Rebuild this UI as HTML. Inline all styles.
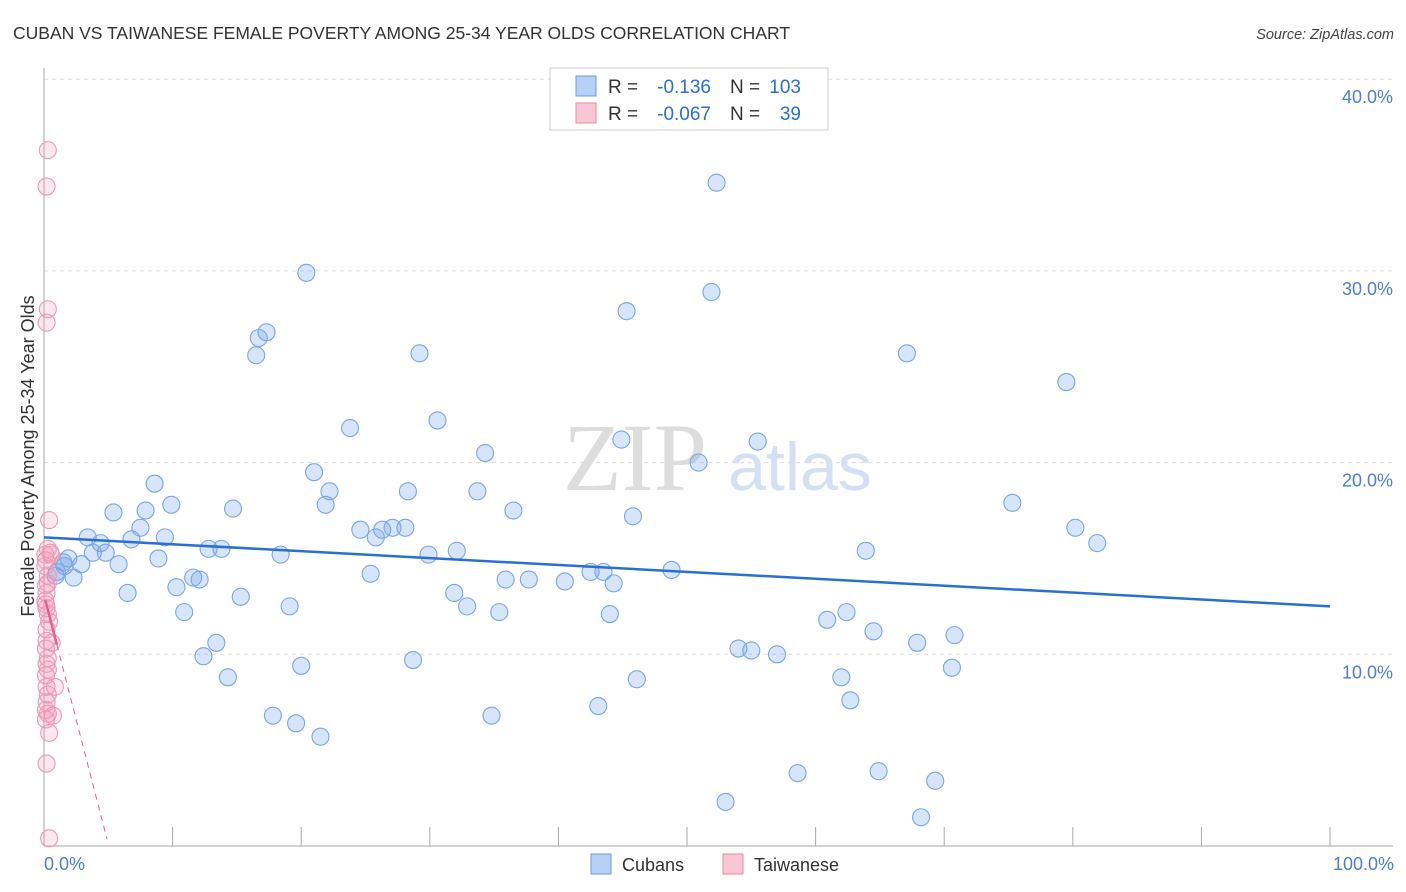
<!DOCTYPE html>
<html><head><meta charset="utf-8"><style>
body{margin:0;background:#fff;font-family:"Liberation Sans",sans-serif;}
svg{display:block}
</style></head><body>
<svg id="chart" width="1406" height="892" xmlns="http://www.w3.org/2000/svg" font-family="Liberation Sans, sans-serif">
<text x="13" y="39" font-size="17.5" fill="#333">CUBAN VS TAIWANESE FEMALE POVERTY AMONG 25-34 YEAR OLDS CORRELATION CHART</text>
<text x="1394" y="39" font-size="14.5" fill="#444" text-anchor="end" font-style="italic">Source: ZipAtlas.com</text>
<g>
<text x="635" y="490" font-size="96" fill="#ddd" text-anchor="middle" font-family="Liberation Serif, serif">ZIP</text>
<text x="800" y="490" font-size="68" fill="#d5e0f4" text-anchor="middle">atlas</text>
</g>
<g id="grid"></g><g id="axes"></g><g id="marks"></g>
<text transform="translate(34,456) rotate(-90)" font-size="18" fill="#333" text-anchor="middle">Female Poverty Among 25-34 Year Olds</text>
<text x="44" y="870" font-size="18" fill="#4a7fd4">0.0%</text>
<text x="1394" y="870" font-size="18" fill="#4a7fd4" text-anchor="end">100.0%</text>
<g>
<rect x="550" y="68" width="278" height="62" fill="#fff" stroke="#ccc"/>
<rect x="576" y="76" width="20" height="20" fill="#b7d0f5" stroke="#6a9be0"/>
<rect x="576" y="103" width="20" height="20" fill="#f9c6d5" stroke="#e88aa8"/>
<text x="608" y="93" font-size="19" fill="#333">R =</text>
<text x="711" y="93" font-size="19" fill="#2a6fd6" text-anchor="end">-0.136</text>
<text x="730" y="93" font-size="19" fill="#333">N =</text>
<text x="801" y="93" font-size="19" fill="#2a6fd6" text-anchor="end">103</text>
<text x="608" y="120" font-size="19" fill="#333">R =</text>
<text x="711" y="120" font-size="19" fill="#2a6fd6" text-anchor="end">-0.067</text>
<text x="730" y="120" font-size="19" fill="#333">N =</text>
<text x="801" y="120" font-size="19" fill="#2a6fd6" text-anchor="end">39</text>
</g>
<g>
<rect x="591" y="854" width="20" height="20" fill="#b7d0f5" stroke="#6a9be0"/>
<text x="622" y="871" font-size="18" fill="#333">Cubans</text>
<rect x="723" y="854" width="20" height="20" fill="#f9c6d5" stroke="#e88aa8"/>
<text x="754" y="871" font-size="18" fill="#333">Taiwanese</text>
</g>
</svg>
<script>
const yTicks=[10,20,30,40];
const yTickLabels=["10.0%","20.0%","30.0%","40.0%"];
const xTicks=[0,10,20,30,40,50,60,70,80,90,100];
const cubanX=[52.3,20.4,51.9,45.3,17.3,16.7,16.5,29.2,67.1,79.5,30.6,23.8,44.9,55.5,34.3,50.9,21.0,8.6,28.3,33.7,22.2,9.9,21.9,75.3,14.7,5.4,7.9,36.5,45.8,7.5,24.6,26.3,27.1,28.1,25.8,80.2,3.4,4.4,6.8,9.4,81.9,12.8,13.8,32.1,29.9,63.9,3.8,4.8,18.4,8.9,5.8,2.9,1.9,1.5,1.0,0.9,2.3,1.6,42.5,43.5,48.8,25.4,11.6,12.1,35.9,37.7,40.5,44.3,10.3,6.5,15.3,31.9,19.1,32.9,35.4,44.0,10.9,62.4,60.9,64.5,70.8,13.4,67.9,54.0,55.0,57.0,12.4,20.0,28.7,70.6,14.3,46.1,62.0,62.7,43.1,17.8,19.6,34.8,21.5,58.6,64.9,69.3,53.0,68.2];
const cubanY=[34.6,29.9,28.9,27.9,26.8,26.5,25.6,25.7,25.7,24.2,22.2,21.8,21.2,21.1,20.5,20.0,19.5,18.9,18.5,18.5,18.5,17.8,17.8,17.9,17.6,17.4,17.5,17.5,17.2,16.6,16.5,16.5,16.6,16.6,16.1,16.6,16.1,15.8,16.0,16.1,15.8,15.5,15.5,15.4,15.2,15.4,15.3,15.3,15.2,15.0,14.7,14.7,15.0,14.8,14.3,14.1,14.0,14.6,14.3,14.3,14.4,14.2,14.0,13.9,13.9,13.9,13.8,13.7,13.5,13.2,13.0,13.2,12.5,12.5,12.2,12.1,12.2,12.2,11.8,11.2,11.0,10.6,10.6,10.3,10.2,10.0,9.9,9.4,9.7,9.3,8.8,8.7,8.8,7.6,7.3,6.8,6.4,6.8,5.7,3.8,3.9,3.4,2.3,1.5];
const taiX=[0.3,0.2,0.3,0.2,0.4,0.3,0.5,0.15,0.1,0.3,0.3,0.2,0.15,0.2,0.3,0.4,0.2,0.6,0.15,0.3,0.2,0.3,0.2,0.85,0.3,0.2,0.15,0.3,0.7,0.15,0.4,0.2,0.4,0.1,0.15,0.55,0.1,0.2,0.15];
const taiY=[36.3,34.4,28.0,27.3,17.0,15.5,15.3,14.9,14.6,14.1,13.7,13.2,12.6,12.4,12.1,11.7,11.3,10.6,10.3,9.8,9.5,9.2,8.3,8.3,7.9,7.5,7.1,6.9,6.8,6.6,5.9,4.3,0.4,15.2,13.6,15.2,12.8,10.7,8.9];
const cubanTrend=[16.1,12.5];
const taiTrend=[13.1,-2.6];
const X0=44,X1=1330,Y0=846,PXY=19.17;
const sx=v=>X0+(X1-X0)*v/100, sy=v=>Y0-v*PXY;
const NS="http://www.w3.org/2000/svg";
function mk(p,t,a){const e=document.createElementNS(NS,t);for(const k in a)e.setAttribute(k,a[k]);p.appendChild(e);return e;}
const grid=document.getElementById('grid'),axes=document.getElementById('axes'),marks=document.getElementById('marks');
yTicks.forEach((t,i)=>{
 const l=mk(grid,'line',{x1:X0,x2:1393,y1:sy(t),y2:sy(t),stroke:'#ddd','stroke-dasharray':'4,4'});
 
 
 const tx=mk(grid,'text',{x:1393,y:sy(t)+24,'font-size':18,fill:'#4a7fd4','text-anchor':'end'});
 tx.textContent=yTickLabels[i];
 
 
});
const ya=mk(axes,'line',{x1:X0,x2:X0,y1:68,y2:Y0,stroke:'#aaa'});


const xa=mk(axes,'line',{x1:X0,x2:1393,y1:Y0,y2:Y0,stroke:'#aaa'});


xTicks.forEach(t=>{
 const l=mk(axes,'line',{x1:sx(t),x2:sx(t),y1:Y0,y2:Y0-19,stroke:'#aaa'});
 
 
});
cubanX.forEach((x,i)=>{
 const c=mk(marks,'circle',{cx:sx(x),cy:sy(cubanY[i]),r:8.5,fill:'rgba(110,160,235,0.28)',stroke:'#7aa6e4','stroke-width':1.1});
 
 
});
taiX.forEach((x,i)=>{
 const c=mk(marks,'circle',{cx:sx(x),cy:sy(taiY[i]),r:8.5,fill:'rgba(245,150,180,0.22)',stroke:'#ec9ab4','stroke-width':1.1});
 
 
});
const bl=mk(marks,'line',{x1:sx(0),y1:sy(cubanTrend[0]),x2:sx(100),y2:sy(cubanTrend[1]),stroke:'#2a6fd6','stroke-width':2.5});


const tf=x=>taiTrend[0]+taiTrend[1]*x;
const ps=mk(marks,'line',{x1:sx(0.1),y1:sy(tf(0.1)),x2:sx(1),y2:sy(tf(1)),stroke:'#e8608a','stroke-width':2.5});


const pd=mk(marks,'line',{x1:sx(1),y1:sy(tf(1)),x2:sx(4.9),y2:sy(tf(4.9)),stroke:'#e8608a','stroke-width':1,'stroke-dasharray':'6,5'});


</script>
</body></html>
